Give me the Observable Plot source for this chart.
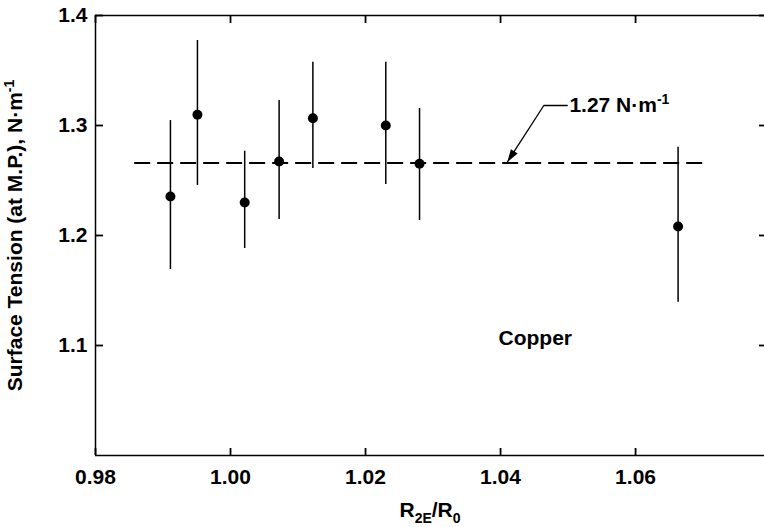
<!DOCTYPE html>
<html><head><meta charset="utf-8">
<script src="https://cdn.jsdelivr.net/npm/d3@7"></script>
<script src="https://cdn.jsdelivr.net/npm/@observablehq/plot@0.6"></script>
<style>body{margin:0;background:#fff}</style>
</head><body><div id="chart"></div>
<script>
// Data
const ratio   = [0.9911, 0.9951, 1.0021, 1.0072, 1.0122, 1.0230, 1.0280, 1.0663];
const tension = [1.2355, 1.3097, 1.2300, 1.2673, 1.3066, 1.3000, 1.2652, 1.2082];
const errLow  = [1.1691, 1.2455, 1.1882, 1.2145, 1.2610, 1.2464, 1.2136, 1.1394];
const errHigh = [1.3045, 1.3773, 1.2766, 1.3227, 1.3576, 1.3576, 1.3155, 1.2803];

const meanValue = 1.266;              // dashed reference line
const meanSpan  = [0.9858, 1.0706];   // x extent of the dashed line
const meanLabel = "1.27 N·m{^-1}";
const leaderX = [1.04988, 1.04641, 1.04099];
const leaderY = [1.3182, 1.3182, 1.2666];
const labelPos = {x: 1.0502, y: 1.3182};
const metalLabel = "Copper";
const metalPos = {x: 1.0397, y: 1.1068};

const xTicks = [0.98, 1.00, 1.02, 1.04, 1.06];
const yTicks = [1.1, 1.2, 1.3, 1.4];
const xLabel = "R{_2E}/R{_0}";
const yLabel = "Surface Tension (at M.P.), N·m{^-1}";

const rows = ratio.map((x, i) => ({x, y: tension[i], lo: errLow[i], hi: errHigh[i]}));
const leader = leaderX.map((x, i) => ({x, y: leaderY[i]}));

const W = 764, H = 527, mL = 95, mR = 0, mT = 15, mB = 72;
const frameW = W - mL - mR, frameH = H - mT - mB;
const xDom = [0.98, 1.0791], yDom = [1.0, 1.4];
const perPxX = (xDom[1] - xDom[0]) / frameW, perPxY = (yDom[1] - yDom[0]) / frameH;

const arrowHead = {draw(ctx) { ctx.moveTo(0, 0); ctx.lineTo(4, 13); ctx.lineTo(-4, 13); ctx.closePath(); }};

const chart = Plot.plot({
  width: W, height: H,
  marginLeft: mL, marginRight: mR, marginTop: mT, marginBottom: mB,
  style: {fontFamily: "'Liberation Sans', Arial, sans-serif", fontSize: "21px", fontWeight: "bold", color: "#000", background: "#fff"},
  x: {domain: xDom},
  y: {domain: yDom},
  marks: [
    // tick labels
    Plot.axisX({anchor: "bottom", ticks: xTicks, tickFormat: d3.format(".2f"), tickSize: 0, tickPadding: 14, label: null}),
    Plot.axisY({anchor: "left", ticks: yTicks, tickFormat: d3.format(".1f"), tickSize: 0, tickPadding: 8, label: null}),
    // inward tick marks on all four sides
    Plot.ruleX(xTicks, {x: d => d, y1: yDom[0], y2: yDom[0] + 7 * perPxY, strokeWidth: 1.8}),
    Plot.ruleX(xTicks, {x: d => d, y1: yDom[1] - 8 * perPxY, y2: yDom[1], strokeWidth: 1.8}),
    Plot.ruleY(yTicks, {y: d => d, x1: xDom[0], x2: xDom[0] + 8 * perPxX, strokeWidth: 1.8}),
    Plot.ruleY(yTicks, {y: d => d, x1: xDom[1] - 5 * perPxX, x2: xDom[1], strokeWidth: 1.8}),
    Plot.ruleX([0.98], {strokeWidth: 1.5}),
    Plot.ruleY([1.0, 1.4], {strokeWidth: 1.5}),
    Plot.ruleY([meanValue], {x1: meanSpan[0], x2: meanSpan[1], strokeWidth: 2, strokeDasharray: "16,7"}),
    Plot.ruleX(rows, {x: "x", y1: "lo", y2: "hi", strokeWidth: 1.5}),
    Plot.dot(rows, {x: "x", y: "y", r: 5, fill: "#000", stroke: "none"}),
    Plot.line(leader, {x: "x", y: "y", strokeWidth: 1.3}),
    Plot.dot([leader[2]], {x: "x", y: "y", symbol: arrowHead, rotate: 212.8, fill: "#000", stroke: "none"}),
    Plot.text([labelPos], {x: "x", y: "y", text: () => meanLabel, textAnchor: "start", lineAnchor: "middle"}),
    Plot.text([metalPos], {x: "x", y: "y", text: () => metalLabel, textAnchor: "start", lineAnchor: "middle"}),
    Plot.text([yLabel], {text: d => d, frameAnchor: "left", rotate: -90, dx: -80, textAnchor: "middle", lineAnchor: "middle"}),
    Plot.text([xLabel], {text: d => d, frameAnchor: "bottom", dy: 55, textAnchor: "middle", lineAnchor: "middle"})
  ]
});
document.getElementById("chart").appendChild(chart);

// Rich text: {^..} superscript, {_..} subscript
const NS = "http://www.w3.org/2000/svg";
chart.querySelectorAll("text, tspan").forEach(t => {
  if (t.children.length || !t.textContent.includes("{")) return;
  const parts = t.textContent.split(/(\{[\^_][^}]*\})/).filter(p => p);
  t.textContent = "";
  let shift = 0;
  for (const p of parts) {
    const m = p.match(/^\{([\^_])(.*)\}$/);
    const ts = document.createElementNS(NS, "tspan");
    let target = 0;
    if (m) { target = m[1] === "^" ? -8 : 6; ts.setAttribute("font-size", "14"); ts.textContent = m[2]; }
    else ts.textContent = p;
    if (target !== shift) { ts.setAttribute("dy", target - shift); shift = target; }
    t.appendChild(ts);
  }
});
</script>
</body></html>
